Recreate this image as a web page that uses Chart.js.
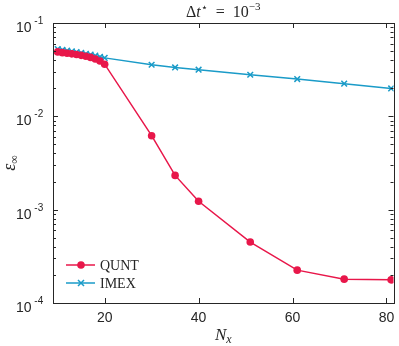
<!DOCTYPE html>
<html>
<head>
<meta charset="utf-8">
<script src="https://cdn.jsdelivr.net/npm/chart.js@4.4.1/dist/chart.umd.min.js"></script>
<style>
  body { margin: 0; background: #fff; }
  canvas { display: block; }
</style>
</head>
<body>
<canvas id="errChart" width="399" height="346"></canvas>
<script>
// grid sizes and max-norm errors
const nx = [10, 11, 12, 13, 14, 15, 16, 17, 18, 19, 20, 30, 35, 40, 51, 61, 71, 81];
const quntErr = [0.0490, 0.0481, 0.0474, 0.0467, 0.0459, 0.0450, 0.0440, 0.0428, 0.0412, 0.0392, 0.0362,
                 0.0062, 0.00233, 0.00123, 0.00045, 0.000225, 0.000180, 0.000177];
const imexErr = [0.0526, 0.0515, 0.0505, 0.0496, 0.0487, 0.0478, 0.0468, 0.0458, 0.0447, 0.0435, 0.0423,
                 0.0357, 0.0334, 0.0316, 0.0279, 0.0251, 0.0224, 0.0199];
const xTicks = [20, 40, 60, 80];
const yTickExps = [-4, -3, -2, -1];

const quntColor = '#E8174A';
const imexColor = '#1A9BC8';
const axisColor = '#262626';
const sans = '"Liberation Sans", Arial, sans-serif';
const serif = '"Liberation Serif", "DejaVu Serif", serif';

// draws a list of text runs (for super/subscripts) starting at x
function drawRuns(ctx, runs, x, y, align) {
    let total = 0;
    runs.forEach(r => { ctx.font = r.font; total += ctx.measureText(r.t).width; });
    let cx = align === 'center' ? x - total / 2 : (align === 'right' ? x - total : x);
    ctx.textAlign = 'left';
    runs.forEach(r => {
        ctx.font = r.font;
        ctx.fillText(r.t, cx, y + (r.dy || 0));
        cx += ctx.measureText(r.t).width;
    });
}

const matlabAxes = {
    id: 'matlabAxes',
    afterDraw(chart) {
        const { ctx, chartArea: a, scales: { x, y } } = chart;
        ctx.save();
        ctx.strokeStyle = axisColor;
        ctx.fillStyle = axisColor;
        ctx.lineWidth = 1;
        ctx.strokeRect(Math.round(a.left) + 0.5, Math.round(a.top) + 0.5,
                       Math.round(a.right - a.left), Math.round(a.bottom - a.top));

        ctx.beginPath();
        xTicks.forEach(v => {
            const px = Math.round(x.getPixelForValue(v)) + 0.5;
            ctx.moveTo(px, a.bottom); ctx.lineTo(px, a.bottom - 5);
            ctx.moveTo(px, a.top); ctx.lineTo(px, a.top + 5);
        });
        for (let e = -4; e <= -2; e++) {
            for (let m = 1; m <= 9; m++) {
                const py = Math.round(y.getPixelForValue(m * Math.pow(10, e))) + 0.5;
                const len = m === 1 ? 5 : 3;
                ctx.moveTo(a.left, py); ctx.lineTo(a.left + len, py);
                ctx.moveTo(a.right, py); ctx.lineTo(a.right - len, py);
            }
        }
        ctx.stroke();

        // tick labels
        ctx.textBaseline = 'alphabetic';
        ctx.font = '14px ' + sans;
        ctx.textAlign = 'center';
        xTicks.forEach(v => ctx.fillText(String(v), x.getPixelForValue(v), 322));
        yTickExps.forEach(e => {
            const py = y.getPixelForValue(Math.pow(10, e));
            drawRuns(ctx, [
                { t: '10', font: '14px ' + sans, dy: 0 },
                { t: ' ' + String(e), font: '10px ' + sans, dy: -8 }
            ], 16, py + 9, 'left');
        });

        // title
        drawRuns(ctx, [
            { t: 'Δ', font: '16px ' + serif },
            { t: 't', font: 'italic 16px ' + serif },
            { t: '⋆', font: '11px ' + serif, dy: -6 },
            { t: '  =  10', font: '16px ' + serif },
            { t: '−3', font: '11px ' + serif, dy: -7 }
        ], (a.left + a.right) / 2, 17, 'center');

        // axis titles
        drawRuns(ctx, [
            { t: 'N', font: 'italic 17px ' + serif },
            { t: 'x', font: 'italic 12px ' + serif, dy: 3 }
        ], (a.left + a.right) / 2, 340, 'center');
        ctx.save();
        ctx.translate(15, (a.top + a.bottom) / 2);
        ctx.rotate(-Math.PI / 2);
        drawRuns(ctx, [
            { t: 'ε', font: 'italic 18px ' + serif },
            { t: '∞', font: '12px ' + serif, dy: 3 }
        ], 0, 0, 'center');
        ctx.restore();

        // legend
        const items = [
            { label: 'QUNT', color: quntColor, marker: 'circle', yy: 265 },
            { label: 'IMEX', color: imexColor, marker: 'cross', yy: 283 }
        ];
        items.forEach(it => {
            ctx.strokeStyle = it.color;
            ctx.fillStyle = it.color;
            ctx.lineWidth = 1.5;
            ctx.beginPath();
            ctx.moveTo(66, it.yy); ctx.lineTo(95, it.yy);
            ctx.stroke();
            const mx = 81;
            if (it.marker === 'circle') {
                ctx.beginPath(); ctx.arc(mx, it.yy, 3.8, 0, Math.PI * 2); ctx.fill();
            } else {
                ctx.beginPath();
                ctx.moveTo(mx - 3, it.yy - 3); ctx.lineTo(mx + 3, it.yy + 3);
                ctx.moveTo(mx - 3, it.yy + 3); ctx.lineTo(mx + 3, it.yy - 3);
                ctx.stroke();
            }
            ctx.fillStyle = axisColor;
            ctx.font = '14px ' + serif;
            ctx.textAlign = 'left';
            ctx.textBaseline = 'middle';
            ctx.fillText(it.label, 100, it.yy + 1);
            ctx.textBaseline = 'alphabetic';
        });
        ctx.restore();
    }
};

new Chart(document.getElementById('errChart').getContext('2d'), {
    type: 'line',
    data: {
        datasets: [{
            label: 'QUNT',
            data: nx.map((v, i) => ({ x: v, y: quntErr[i] })),
            borderColor: quntColor,
            backgroundColor: quntColor,
            borderWidth: 1.5,
            pointStyle: 'circle',
            pointRadius: 3.8,
            pointBorderWidth: 0
        }, {
            label: 'IMEX',
            data: nx.map((v, i) => ({ x: v, y: imexErr[i] })),
            borderColor: imexColor,
            backgroundColor: imexColor,
            borderWidth: 1.5,
            pointStyle: 'crossRot',
            pointRadius: 4,
            pointBorderWidth: 1.5
        }]
    },
    options: {
        responsive: false,
        animation: false,
        devicePixelRatio: 1,
        layout: { padding: { top: 23, right: 5, left: 0, bottom: 0 } },
        plugins: { legend: { display: false }, tooltip: { enabled: false } },
        scales: {
            x: {
                type: 'linear', min: 9, max: 81.5,
                grid: { display: false }, border: { display: false },
                ticks: { display: false },
                afterFit(scale) { scale.height = 43; }
            },
            y: {
                type: 'logarithmic', min: 1e-4, max: 1e-1,
                grid: { display: false }, border: { display: false },
                ticks: { display: false },
                afterFit(scale) { scale.width = 53; }
            }
        }
    },
    plugins: [matlabAxes]
});
</script>
</body>
</html>
